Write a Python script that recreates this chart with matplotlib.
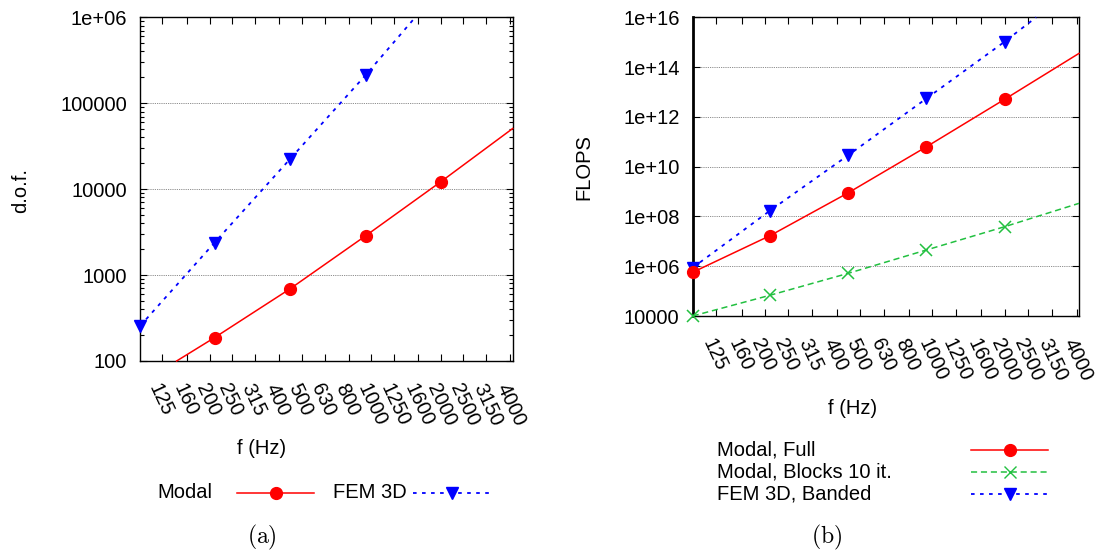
import numpy as np
import matplotlib
matplotlib.use('Agg')
import matplotlib.pyplot as plt
from matplotlib.lines import Line2D
from matplotlib.ticker import NullLocator, LogLocator, NullFormatter

plt.rcParams['font.family'] = ['Liberation Sans', 'DejaVu Sans']
plt.rcParams['mathtext.fontset'] = 'cm'

# third-octave band labels on the x axis
band_freqs = [125, 160, 200, 250, 315, 400, 500, 630, 800, 1000, 1250, 1600, 2000, 2500, 3150, 4000]
band_labels = [str(b) for b in band_freqs]

# (a) degrees of freedom
modal_dof_f = [144, 210, 446, 945, 2000, 4090]
modal_dof = [100, 187, 693, 2860, 12200, 50800]
fem_dof_f = [100, 210, 446, 945, 1550]
fem_dof = [255, 2380, 22500, 212000, 1000000]

# (b) floating point operations
flops_f = [100, 210, 446, 945, 2000, 4090]
modal_full = [5.7e5, 1.68e7, 8.95e8, 6.3e10, 5.05e12, 3.55e14]
modal_blocks = [1.0e4, 6.8e4, 5.2e5, 4.5e6, 3.86e7, 3.36e8]
fem_banded_f = [100, 210, 446, 945, 2000, 2710]
fem_banded = [8.7e5, 1.7e8, 2.9e10, 5.5e12, 1.04e15, 1e16]

dof_ticks = [100, 1000, 10000, 100000, 1e6]
dof_ticklabels = ['100', '1000', '10000', '100000', '1e+06']
flops_ticks = [1e4, 1e6, 1e8, 1e10, 1e12, 1e14, 1e16]
flops_ticklabels = ['10000', '1e+06', '1e+08', '1e+10', '1e+12', '1e+14', '1e+16']

RED = '#ff0000'
GREEN = '#22c040'
BLUE = '#0000ff'
DOT = (0, (2, 3))
DASH = (0, (4, 2.5))
FS = 14.5

W, H = 1105, 555
fig = plt.figure(figsize=(W / 100, H / 100), dpi=100)


def fx(px):
    return px / W


def fy(py):
    return 1 - py / H


ax1 = fig.add_axes([fx(140), fy(361), 372.7 / W, 343.7 / H])
ax2 = fig.add_axes([fx(692.7), fy(316), 386.3 / W, 298.7 / H])


def style(ax, ylim, yticks, ylabels, minor):
    ax.set_xscale('log')
    ax.set_yscale('log')
    ax.set_xlim(100, 4090)
    ax.set_ylim(*ylim)
    ax.set_xticks(band_freqs)
    ax.set_xticklabels(band_labels, rotation=-65, ha='left', va='top',
                       rotation_mode='anchor', fontsize=FS)
    ax.xaxis.set_minor_locator(NullLocator())
    ax.set_yticks(yticks)
    ax.set_yticklabels(ylabels, fontsize=FS)
    if minor:
        ax.yaxis.set_minor_locator(LogLocator(base=10, subs=np.arange(2, 10)))
        ax.yaxis.set_minor_formatter(NullFormatter())
    else:
        ax.yaxis.set_minor_locator(NullLocator())
    ax.tick_params(which='both', direction='in', top=True, right=True, width=0.8)
    ax.tick_params(which='major', length=5)
    ax.tick_params(which='minor', length=3)
    ax.tick_params(axis='x', pad=14)
    ax.tick_params(axis='y', pad=9.5)
    ax.yaxis.grid(True, which='major', linestyle=(0, (1, 1.2)), color='0.4', linewidth=0.6)
    ax.set_axisbelow(True)
    for s in ax.spines.values():
        s.set_linewidth(1.0)


style(ax1, (100, 1e6), dof_ticks, dof_ticklabels, True)
style(ax2, (1e4, 1e16), flops_ticks, flops_ticklabels, False)
ax2.spines['left'].set_linewidth(2.0)

# panel (a)
ax1.plot(modal_dof_f, modal_dof, color=RED, lw=1.1, marker='o', ms=8.5,
         markevery=[1, 2, 3, 4], clip_on=False, zorder=3)
ax1.plot(fem_dof_f, fem_dof, color=BLUE, lw=1.3, ls=DOT, marker='v', ms=9,
         markevery=[0, 1, 2, 3], clip_on=False, zorder=3)

# panel (b)
ax2.plot(flops_f, modal_full, color=RED, lw=1.1, marker='o', ms=8.5,
         markevery=[0, 1, 2, 3, 4], clip_on=False, zorder=4)
ax2.plot(flops_f, modal_blocks, color=GREEN, lw=1.1, ls=DASH, marker='x', ms=9, mew=1.1,
         markevery=[0, 1, 2, 3, 4], clip_on=False, zorder=3)
ax2.plot(fem_banded_f, fem_banded, color=BLUE, lw=1.3, ls=DOT, marker='v', ms=9,
         markevery=[0, 1, 2, 3, 4], clip_on=False, zorder=3)

# axis titles
fig.text(fx(21), fy(190), 'd.o.f.', rotation=90, ha='center', va='center', fontsize=FS)
fig.text(fx(262), fy(448), 'f (Hz)', ha='center', va='center', fontsize=FS)
fig.text(fx(584), fy(167), 'FLOPS', rotation=90, ha='center', va='center', fontsize=FS)
fig.text(fx(853), fy(408), 'f (Hz)', ha='center', va='center', fontsize=FS)


# gnuplot-like keys drawn by hand
def key_sample(x0, x1, y, color, ls, lw, marker, ms, mew=1.0):
    fig.add_artist(Line2D([fx(x0), fx(x1)], [fy(y), fy(y)], color=color, ls=ls, lw=lw))
    fig.add_artist(Line2D([fx((x0 + x1) / 2)], [fy(y)], color=color, marker=marker,
                          ms=ms, mew=mew, ls='none'))


fig.text(fx(157), fy(493), 'Modal', ha='left', va='center', fontsize=FS)
key_sample(237, 314, 493, RED, '-', 1.1, 'o', 8.5)
fig.text(fx(333), fy(493), 'FEM 3D', ha='left', va='center', fontsize=FS)
key_sample(413, 490, 493, BLUE, DOT, 1.3, 'v', 9)

rows = [('Modal, Full', RED, '-', 1.1, 'o', 8.5),
        ('Modal, Blocks 10 it.', GREEN, DASH, 1.1, 'x', 9),
        ('FEM 3D, Banded', BLUE, DOT, 1.3, 'v', 9)]
for i, (lab, c, ls, lw, mk, ms) in enumerate(rows):
    yy = 450 + 22 * i
    fig.text(fx(717), fy(yy), lab, ha='left', va='center', fontsize=FS)
    key_sample(971, 1048, yy, c, ls, lw, mk, ms)

fig.text(fx(262), fy(537), r'$(\mathrm{a})$', ha='center', va='center', fontsize=17)
fig.text(fx(827), fy(537), r'$(\mathrm{b})$', ha='center', va='center', fontsize=17)

fig.savefig('out.png', dpi=100)
